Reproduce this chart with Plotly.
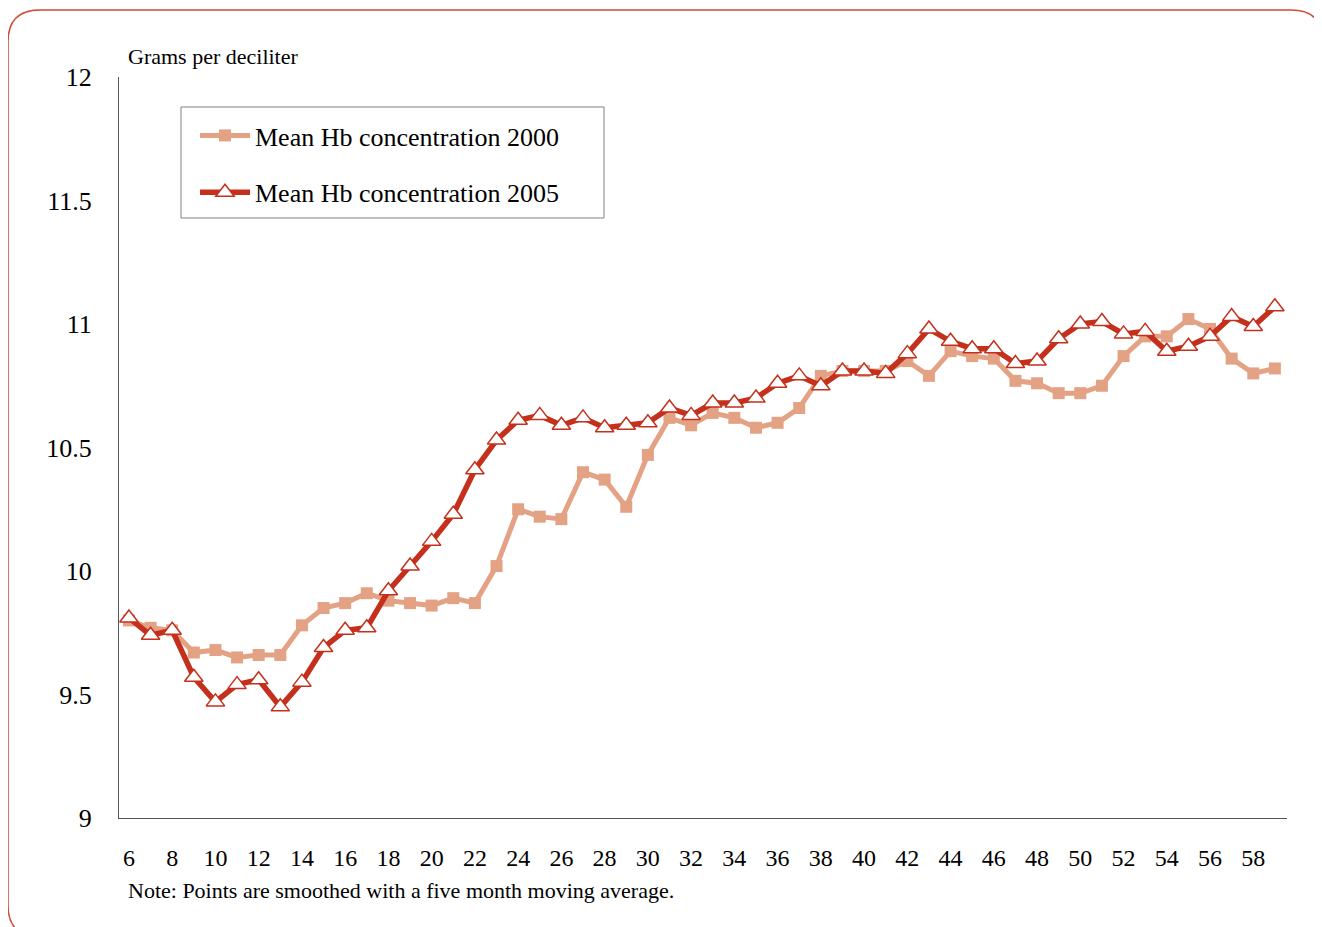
import plotly.graph_objects as go

months = list(range(6, 60))

hb_2000 = [
    9.80, 9.77, 9.76, 9.67, 9.68, 9.65, 9.66, 9.66, 9.78, 9.85,
    9.87, 9.91, 9.88, 9.87, 9.86, 9.89, 9.87, 10.02, 10.25, 10.22,
    10.21, 10.40, 10.37, 10.26, 10.47, 10.62, 10.59, 10.64, 10.62, 10.58,
    10.60, 10.66, 10.79, 10.81, 10.81, 10.81, 10.85, 10.79, 10.89, 10.87,
    10.86, 10.77, 10.76, 10.72, 10.72, 10.75, 10.87, 10.95, 10.95, 11.02,
    10.98, 10.86, 10.80, 10.82,
]

hb_2005 = [
    9.81, 9.74, 9.76, 9.57, 9.47, 9.54, 9.56, 9.45, 9.55, 9.69,
    9.76, 9.77, 9.92, 10.02, 10.12, 10.23, 10.41, 10.53, 10.61, 10.63,
    10.59, 10.62, 10.58, 10.59, 10.60, 10.66, 10.63, 10.68, 10.68, 10.70,
    10.76, 10.79, 10.75, 10.81, 10.81, 10.80, 10.88, 10.98, 10.93, 10.90,
    10.90, 10.84, 10.85, 10.94, 11.00, 11.01, 10.96, 10.97, 10.89, 10.91,
    10.95, 11.03, 10.99, 11.07,
]

x_ticks = list(range(6, 59, 2))
y_ticks = [9, 9.5, 10, 10.5, 11, 11.5, 12]
y_tick_text = ["9", "9.5", "10", "10.5", "11", "11.5", "12"]

FONT = "Liberation Serif, Times New Roman, serif"
LIGHT = "#E4A285"
DARK = "#C4301C"

# the page puts the figure 8px in from the window corner
OFF = 8
W, H = 1322 - OFF, 927 - OFF
L, R, T, B = 119 - OFF, 35, 77 - OFF, 109
pw, ph = W - L - R, H - T - B


def px(x):
    # window pixel -> paper x
    return (x - OFF - L) / pw


def py(y):
    # window pixel -> paper y
    return (H - B - (y - OFF)) / ph


fig = go.Figure()
fig.add_trace(go.Scatter(
    x=months, y=hb_2000, mode="lines+markers",
    name="Mean Hb concentration 2000", legendgroup="a",
    line=dict(color=LIGHT, width=5),
    marker=dict(symbol="square", size=12, color=LIGHT),
))
fig.add_trace(go.Scatter(
    x=months, y=hb_2005, mode="lines+markers",
    name="Mean Hb concentration 2005", legendgroup="b",
    line=dict(color=DARK, width=5.5),
    marker=dict(symbol="triangle-up", size=16, color="white",
                line=dict(color=DARK, width=1.5)),
))

# rounded red frame around the whole figure (runs off right and bottom)
x0, x1, y0, y1, r = 8, 1323, 10, 937, 32
path = (
    f"M {px(x0 + r)},{py(y0)} L {px(x1 - r)},{py(y0)} "
    f"Q {px(x1)},{py(y0)} {px(x1)},{py(y0 + r)} "
    f"L {px(x1)},{py(y1 - r)} Q {px(x1)},{py(y1)} {px(x1 - r)},{py(y1)} "
    f"L {px(x0 + r)},{py(y1)} Q {px(x0)},{py(y1)} {px(x0)},{py(y1 - r)} "
    f"L {px(x0)},{py(y0 + r)} Q {px(x0)},{py(y0)} {px(x0 + r)},{py(y0)} Z"
)
fig.add_shape(type="path", path=path, xref="paper", yref="paper",
              line=dict(color="#D04A36", width=1.5), layer="below")

# legend box
fig.add_shape(type="rect", xref="paper", yref="paper",
              x0=px(181), x1=px(604), y0=py(218), y1=py(107),
              line=dict(color="#808080", width=1), fillcolor="white",
              layer="below")

fig.add_annotation(text="Grams per deciliter", xref="paper", yref="paper",
                   x=px(126), y=py(56), xanchor="left", yanchor="middle",
                   showarrow=False, font=dict(size=22, color="black"))
fig.add_annotation(text="Note: Points are smoothed with a five month moving average.",
                   xref="paper", yref="paper", x=px(126), y=py(890),
                   xanchor="left", yanchor="middle", showarrow=False,
                   font=dict(size=22, color="black"))

fig.update_layout(
    width=W, height=H,
    margin=dict(l=L, r=R, t=T, b=B),
    paper_bgcolor="white", plot_bgcolor="white",
    font=dict(family=FONT, color="black", size=24),
    showlegend=True,
    legend=dict(
        x=px(195), y=py(112), xanchor="left", yanchor="top",
        borderwidth=0, bgcolor="rgba(0,0,0,0)",
        font=dict(size=26), tracegroupgap=20, traceorder="grouped",
        itemwidth=50,
    ),
    xaxis=dict(
        range=[5.54, 59.56], tickvals=x_ticks, showgrid=False, zeroline=False,
        showline=True, linecolor="#555555", linewidth=1, ticks="",
        ticklabelstandoff=18, tickfont=dict(size=24),
    ),
    yaxis=dict(
        range=[9, 12], tickvals=y_ticks, ticktext=y_tick_text,
        showgrid=False, zeroline=False,
        showline=True, linecolor="#555555", linewidth=1, ticks="",
        ticklabelstandoff=21, tickfont=dict(size=26),
    ),
)

fig.write_html("out.html")
